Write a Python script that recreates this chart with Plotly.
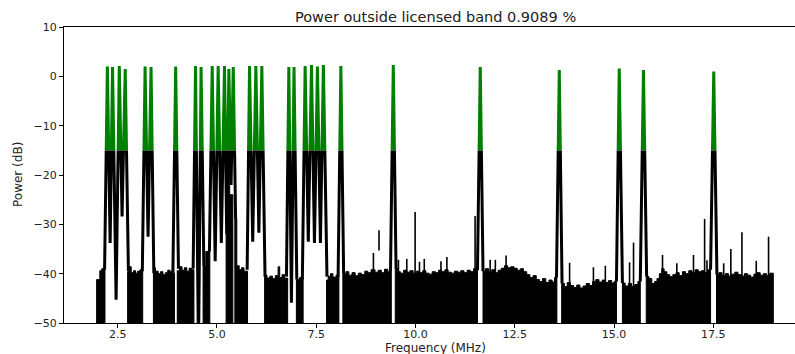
import plotly.graph_objects as go

# ---------------- data ----------------
TITLE = "Power outside licensed band 0.9089 %"
X_LABEL = "Frequency (MHz)"
Y_LABEL = "Power (dB)"
GREEN_LEVEL_DB = -15.0          # part of the trace above this level is drawn green

x_ticks = [2.5, 5.0, 7.5, 10.0, 12.5, 15.0, 17.5]
y_ticks = [-50, -40, -30, -20, -10, 0, 10]

# Noise floor: breakpoints (MHz) and level held until next breakpoint (dB);
# None in floor_db marks the end of a floor segment.
floor_f = [
    1.97, 2.05, 2.10, 2.18,
    2.75, 2.80, 2.84, 2.90, 2.95, 3.00, 3.06, 3.13,
    3.40, 3.45, 3.52, 3.58, 3.64, 3.70, 3.76, 3.82, 3.88, 3.93,
    4.00, 4.06, 4.12, 4.18, 4.24, 4.30, 4.36, 4.42,
    4.65, 4.72, 4.82,
    5.23, 5.28, 5.32, 5.40,
    5.45, 5.50, 5.56, 5.62, 5.68, 5.77,
    6.20, 6.26, 6.33, 6.40, 6.47, 6.54, 6.58, 6.64, 6.70, 6.78,
    7.00, 7.08, 7.17,
    7.76, 7.80, 7.86, 7.92, 8.00, 8.07,
    8.17, 8.25, 8.32, 8.40, 8.48, 8.56, 8.64, 8.72, 8.80, 8.88, 8.98, 9.06, 9.14, 9.22, 9.30, 9.39,
    9.49, 9.55, 9.62, 9.70, 9.78, 9.86, 9.94, 10.02, 10.10, 10.18, 10.26, 10.34, 10.42, 10.50,
    10.58, 10.66, 10.74, 10.82, 10.90, 10.98, 11.06, 11.14, 11.22, 11.30, 11.38, 11.46, 11.56,
    11.70, 11.76, 11.84, 11.92, 12.00, 12.08, 12.16, 12.24, 12.32, 12.40, 12.48, 12.56, 12.64,
    12.72, 12.80, 12.88, 12.96, 13.04, 13.12, 13.20, 13.28, 13.36, 13.44, 13.50, 13.56,
    13.68, 13.75, 13.82, 13.90, 13.98, 14.06, 14.14, 14.22, 14.30, 14.38, 14.46, 14.54, 14.62,
    14.70, 14.78, 14.86, 14.94, 15.00, 15.06,
    15.21, 15.28, 15.36, 15.44, 15.52, 15.60, 15.66,
    15.81, 15.88, 15.95, 16.02, 16.08, 16.14, 16.20, 16.26, 16.33, 16.40, 16.48, 16.56, 16.64,
    16.72, 16.80, 16.88, 16.96, 17.04, 17.12, 17.20, 17.28, 17.36, 17.43,
    17.58, 17.64, 17.72, 17.80, 17.88, 17.96, 18.04, 18.12, 18.20, 18.28, 18.36, 18.44, 18.52,
    18.60, 18.68, 18.76, 18.84, 18.92, 19.01,
]
floor_db = [
    -41.2, -39.4, -39.0, None,
    -39.6, -38.6, -39.8, -39.4, -39.9, -39.5, -39.2, None,
    -38.8, -39.5, -40.0, -39.6, -40.2, -39.8, -39.3, -39.6, -39.9, None,
    -39.4, -38.6, -39.3, -38.8, -39.5, -38.9, -39.2, None,
    -38.5, -35.5, None,
    -32.0, -16.0, -24.0, None,
    -29.0, -38.4, -39.2, -38.8, -39.5, None,
    -40.3, -40.9, -40.5, -41.0, -40.4, -38.6, -40.8, -40.2, -40.9, None,
    -41.2, -40.8, None,
    -41.3, -40.5, -40.0, -40.7, -40.3, None,
    -40.0, -39.6, -40.3, -39.8, -40.4, -39.9, -40.2, -39.5, -39.8, -39.2, -39.7, -39.3, -39.8, -39.1, -39.6, None,
    -38.9, -39.6, -39.9, -39.3, -39.7, -39.4, -39.9, -39.5, -39.8, -39.4, -39.9, -40.1, -39.6, -39.8,
    -39.3, -39.6, -39.2, -39.7, -39.9, -39.5, -39.7, -39.4, -39.8, -39.3, -39.6, -39.0, None,
    -39.5, -39.0, -39.6, -39.2, -39.8, -39.3, -38.9, -38.4, -38.8, -38.6, -38.9, -39.3, -39.0,
    -39.6, -40.2, -40.8, -40.4, -41.2, -41.6, -41.0, -41.8, -41.3, -41.7, -40.8, None,
    -42.0, -42.6, -41.8, -42.4, -42.8, -42.3, -42.9, -42.5, -42.0, -42.4, -41.6, -41.2, -41.7,
    -41.3, -41.8, -41.4, -41.9, -41.6, None,
    -41.9, -42.5, -42.0, -42.6, -42.2, -41.6, None,
    -40.6, -41.0, -42.0, -41.6, -41.0, -40.0, -39.0, -39.6, -40.2, -40.6, -40.2, -39.8, -40.4,
    -39.6, -40.0, -39.4, -39.8, -39.2, -39.6, -39.4, -39.8, -39.2, None,
    -40.2, -39.8, -40.4, -40.0, -40.5, -40.1, -39.7, -40.2, -40.5, -40.0, -40.3, -40.7, -40.1,
    -39.8, -40.3, -40.0, -40.4, -39.9, None,
]

# Isolated noise spikes above the floor: frequency, top (dB), bottom (dB; None = from floor)
spike_f = [8.94, 9.08, 9.57, 9.78, 9.99, 10.10, 10.22, 10.64, 10.79, 11.50, 11.88, 12.01, 12.28,
           13.88, 14.48, 14.78, 15.39, 15.49, 16.22, 16.58, 17.00, 17.28, 17.34, 17.76, 17.94,
           18.22, 18.58, 18.89]
spike_top = [-35.8, -31.2, -37.2, -37.0, -27.5, -37.6, -37.0, -37.5, -36.6, -28.3, -37.2, -37.2, -36.3,
             -37.8, -38.7, -38.4, -37.7, -33.7, -36.2, -37.9, -36.2, -28.9, -37.3, -37.9, -35.0,
             -31.6, -37.4, -32.5]
spike_bottom = [None, -35.3, None, None, None, None, None, None, None, None, None, None, None,
                None, None, None, None, None, None, None, None, None, None, None, None,
                None, None, None]

# Channel trace: peaks and dips of the licensed carriers (None separates carrier groups)
line_f = [
    2.17, 2.24, 2.31, 2.37, 2.46, 2.54, 2.61, 2.69, 2.77, None,
    3.12, 3.19, 3.265, 3.34, 3.41, None,
    3.89, 3.96, 4.03, None,
    4.40, 4.46, 4.535, 4.60, 4.67, None,
    4.81, 4.88, 4.955, 5.03, 5.11, 5.19, 5.245, 5.30, 5.355, 5.41, 5.47, None,
    5.76, 5.82, 5.90, 5.98, 6.055, 6.13, 6.21, None,
    6.75, 6.81, 6.875, 6.94, 7.01, None,
    7.15, 7.22, 7.30, 7.38, 7.455, 7.53, 7.605, 7.68, 7.77, None,
    8.05, 8.12, 8.19, None,
    9.37, 9.44, 9.51, None,
    11.56, 11.63, 11.70, None,
    13.55, 13.62, 13.69, None,
    15.06, 15.13, 15.21, None,
    15.66, 15.74, 15.82, None,
    17.43, 17.51, 17.59,
]
line_db = [
    -39.2, 2.0, -33.8, 1.9, -45.3, 2.1, -28.4, 1.5, -39.5, None,
    -39.5, 2.0, -32.5, 1.9, -39.9, None,
    -39.9, 2.0, -39.0, None,
    -39.0, 2.1, -56.0, 1.9, -38.5, None,
    -35.5, 2.1, -37.5, 2.1, -33.8, 2.1, -32.0, 1.5, -22.0, 1.9, -29.0, None,
    -39.2, 2.1, -33.5, 2.1, -31.7, 2.1, -40.6, None,
    -40.6, 1.9, -45.9, 1.9, -41.2, None,
    -41.2, 2.1, -33.5, 2.3, -33.8, 2.0, -33.8, 2.3, -40.6, None,
    -40.6, 2.1, -40.0, None,
    -39.6, 2.3, -39.0, None,
    -39.3, 1.9, -39.5, None,
    -40.8, 1.3, -42.0, None,
    -41.6, 1.6, -41.9, None,
    -41.6, 1.3, -40.6, None,
    -39.2, 1.0, -40.2,
]

# ---------------- build figure ----------------
BOTTOM = -60.0  # below visible range, for filling the floor down past the axis

# floor polygons (step outline, closed to below the axis)
poly_x, poly_y = [], []
seg = []
for f, v in zip(floor_f, floor_db):
    seg.append((f, v))
    if v is None:
        pts_x = [seg[0][0]]
        pts_y = [BOTTOM]
        for i in range(len(seg) - 1):
            pts_x += [seg[i][0], seg[i + 1][0]]
            pts_y += [seg[i][1], seg[i][1]]
        pts_x += [seg[-1][0]]
        pts_y += [BOTTOM]
        poly_x += pts_x + [None]
        poly_y += pts_y + [None]
        seg = []

spk_x, spk_y = [], []
for f, t, b in zip(spike_f, spike_top, spike_bottom):
    spk_x += [f, f, None]
    spk_y += [BOTTOM if b is None else b, t, None]

fig = go.Figure()
fig.add_trace(go.Scatter(x=poly_x, y=poly_y, mode="lines", fill="toself",
                         fillcolor="black", line=dict(color="black", width=1),
                         hoverinfo="skip", showlegend=False))
fig.add_trace(go.Scatter(x=spk_x, y=spk_y, mode="lines",
                         line=dict(color="black", width=1.6),
                         hoverinfo="skip", showlegend=False))
fig.add_trace(go.Scatter(x=line_f, y=line_db, mode="lines",
                         line=dict(color="black", width=3),
                         hoverinfo="skip", showlegend=False))
# same trace on an overlay subplot whose area starts at GREEN_LEVEL_DB -> clipped green part
fig.add_trace(go.Scatter(x=line_f, y=line_db, mode="lines", xaxis="x2", yaxis="y2",
                         line=dict(color="green", width=3),
                         hoverinfo="skip", showlegend=False))

XR = [1.148, 19.556]
YR = [-50, 10]
tickfont = dict(family="DejaVu Sans", size=11, color="#222222")
fig.update_layout(
    width=795, height=354,
    margin=dict(l=64, r=0, t=27, b=31),
    paper_bgcolor="white", plot_bgcolor="white",
    showlegend=False,
    xaxis=dict(range=XR, tickvals=x_ticks, ticktext=[f"{v:.1f}" for v in x_ticks],
               showgrid=False, zeroline=False, showline=True, linecolor="black", linewidth=1,
               mirror=True, ticks="outside", ticklen=4, tickcolor="black", tickwidth=1,
               tickfont=tickfont, ticklabelstandoff=-3),
    yaxis=dict(range=YR, tickvals=y_ticks, showgrid=False, zeroline=False, showline=True,
               linecolor="black", linewidth=1, ticks="outside", ticklen=4, tickcolor="black",
               tickwidth=1, tickfont=tickfont, domain=[0, 1]),
    xaxis2=dict(range=XR, anchor="y2", overlaying="x", visible=False),
    yaxis2=dict(range=[GREEN_LEVEL_DB, YR[1]], anchor="x2", visible=False,
                domain=[(GREEN_LEVEL_DB - YR[0]) / (YR[1] - YR[0]), 1]),
    annotations=[
        dict(text=TITLE, xref="paper", yref="paper", x=(435 - 64) / 731, y=1.034,
             xanchor="center", yanchor="middle", showarrow=False,
             font=dict(family="DejaVu Sans", size=14.5, color="#222222")),
        dict(text=X_LABEL, xref="paper", yref="paper", x=(435 - 64) / 731, y=-0.083,
             xanchor="center", yanchor="middle", showarrow=False,
             font=dict(family="DejaVu Sans", size=12, color="#222222")),
        dict(text=Y_LABEL, xref="paper", yref="paper", x=(18 - 64) / 731, y=0.5,
             xanchor="center", yanchor="middle", showarrow=False, textangle=-90,
             font=dict(family="DejaVu Sans", size=12, color="#222222")),
    ],
)

fig.write_html("out.html", config={"displayModeBar": False})
